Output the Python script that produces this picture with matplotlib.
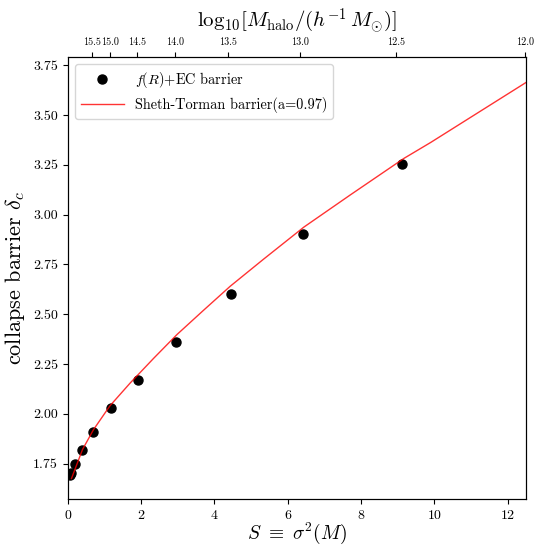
import numpy as np
import matplotlib
matplotlib.use('Agg')
import matplotlib.pyplot as plt

plt.rcParams['font.family'] = 'serif'
plt.rcParams['font.serif'] = ['cmr10', 'DejaVu Serif']
plt.rcParams['mathtext.fontset'] = 'cm'
plt.rcParams['axes.formatter.use_mathtext'] = True

# f(R)+EC barrier points
S_pts = [0.06, 0.10, 0.19, 0.39, 0.69, 1.17, 1.92, 2.95, 4.44, 6.41, 9.11]
delta_pts = [1.695, 1.705, 1.75, 1.82, 1.91, 2.03, 2.17, 2.36, 2.60, 2.90, 3.255]

# Sheth-Torman barrier curve
S_line = [0.10, 0.40, 0.70, 1.15, 1.70, 2.34, 2.98, 3.70, 4.43, 5.34,
          6.44, 7.71, 9.17, 9.90, 12.5]
delta_line = [1.675, 1.82, 1.92, 2.04, 2.154, 2.278, 2.398, 2.519, 2.640, 2.776,
              2.937, 3.099, 3.282, 3.362, 3.663]

# top axis: halo mass ticks
top_S = [0.673, 1.154, 1.89, 2.93, 4.36, 6.33, 8.96, 12.47]
top_labels = ['15.5', '15.0', '14.5', '14.0', '13.5', '13.0', '12.5', '12.0']

fig = plt.figure(figsize=(5.34, 5.5), dpi=100)
ax = fig.add_axes([0.127, 0.092, 0.858, 0.804])

ax.plot(S_pts, delta_pts, 'o', color='k', markersize=6.5, label=r'$f(R)$+EC barrier')
ax.plot(S_line, delta_line, '-', color='r', alpha=0.8, lw=1.0, label='Sheth-Torman barrier(a=0.97)')

ax.set_xlim(0, 12.5)
ax.set_ylim(1.57, 3.79)
yt = np.arange(1.75, 3.76, 0.25)
ax.set_yticks(yt)
ax.set_yticklabels(['%.2f' % v for v in yt])
ax.tick_params(labelsize=10)
ax.set_xlabel(r'$S\ \equiv\ \sigma^2(M)$', fontsize=14, labelpad=-1)
ax.set_ylabel(r'collapse barrier $\delta_c$', fontsize=16)
ax.legend(loc='upper left', fontsize=10.3, handlelength=3, numpoints=1)

ax2 = ax.twiny()
ax2.set_xlim(ax.get_xlim())
ax2.set_xticks(top_S)
ax2.set_xticklabels(top_labels, fontsize=7.3)
ax2.set_xlabel(r'$\mathrm{log}_{10}[M_{\rm halo}/(h^{-1}\,M_{\odot})]$', fontsize=15, labelpad=8)

fig.savefig('out.png', dpi=100)
